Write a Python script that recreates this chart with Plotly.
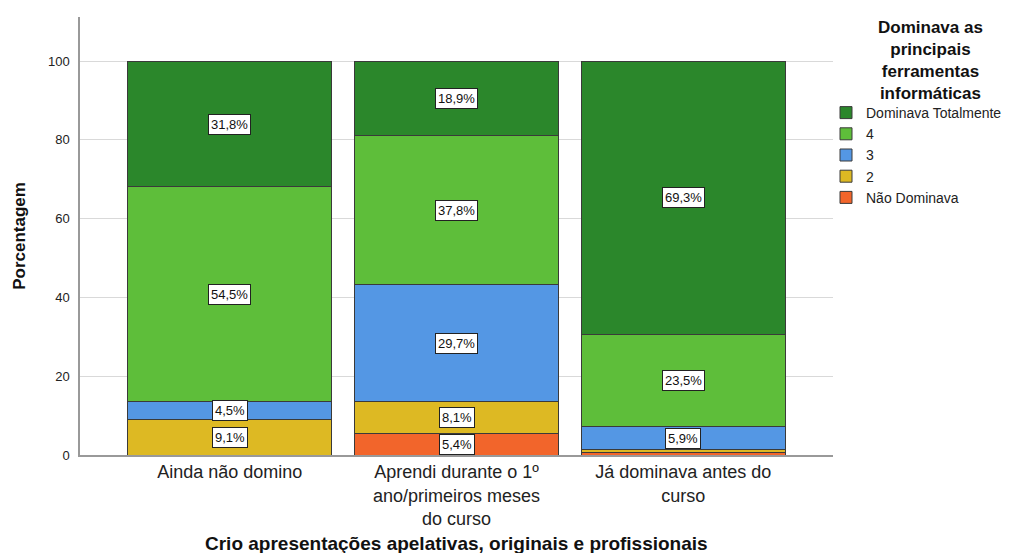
import plotly.graph_objects as go

categories = ["Ainda não domino",
              "Aprendi durante o 1º<br>ano/primeiros meses<br>do curso",
              "Já dominava antes do<br>curso"]
series_names = ["Não Dominava", "2", "3", "4", "Dominava Totalmente"]
nao_dominava = [0.0, 5.4, 0.7]
nivel2 = [9.1, 8.1, 0.6]
nivel3 = [4.5, 29.7, 5.9]
nivel4 = [54.5, 37.8, 23.5]
totalmente = [31.8, 18.9, 69.3]
y_ticks = [0, 20, 40, 60, 80, 100]
legend_title = "Dominava as<br>principais<br>ferramentas<br>informáticas"
x_title = "Crio apresentações apelativas, originais e profissionais"
y_title = "Porcentagem"

series_values = [nao_dominava, nivel2, nivel3, nivel4, totalmente]
colors = ["#F2652B", "#DDB923", "#5497E4", "#5EBE3A", "#2B872B"]

FONT = "Arial, Liberation Sans, sans-serif"
L, R, T, B = 80, 192, 17, 98
W, H = 1025, 553
plot_w = W - L - R
plot_h = H - T - B

fig = go.Figure()
for name, vals, col in zip(series_names, series_values, colors):
    fig.add_trace(go.Bar(
        x=categories, y=vals, name=name,
        marker=dict(color=col, line=dict(color="#3a3a3a", width=1)),
        width=0.9, hoverinfo="x+y+name",
    ))

# data labels
annotations = []
for ci, cat in enumerate(categories):
    base = 0.0
    for vals in series_values:
        v = vals[ci]
        if v >= 2:
            annotations.append(dict(
                x=cat, y=base + v / 2, xref="x", yref="y",
                text=f"{v:.1f}".replace(".", ",") + "%",
                showarrow=False, font=dict(family=FONT, size=13, color="#111"),
                bgcolor="white", bordercolor="#222", borderwidth=1, borderpad=2,
            ))
        base += v

# legend title
annotations.append(dict(
    x=(930 - L) / plot_w, y=(H - B - 60) / plot_h, xref="paper", yref="paper",
    xanchor="center", yanchor="middle", showarrow=False, align="center",
    text=f"<b>{legend_title}</b>", font=dict(family=FONT, size=17, color="#111"),
))

# x axis title
annotations.append(dict(
    x=0.5, y=(H - B - 543) / plot_h, xref="paper", yref="paper",
    xanchor="center", yanchor="middle", showarrow=False,
    text=f"<b>{x_title}</b>", font=dict(family=FONT, size=19, color="#111"),
))

fig.update_layout(
    width=W, height=H,
    margin=dict(l=L, r=R, t=T, b=B, autoexpand=False),
    barmode="stack",
    plot_bgcolor="white", paper_bgcolor="white",
    font=dict(family=FONT, color="#222"),
    annotations=annotations,
    legend=dict(
        x=(826 - L) / plot_w, y=(H - B - 97) / plot_h,
        xanchor="left", yanchor="top", traceorder="reversed",
        font=dict(family=FONT, size=14, color="#222"),
        bgcolor="rgba(0,0,0,0)", itemwidth=30,
    ),
    xaxis=dict(
        range=[-0.66, 2.66], showgrid=False, showline=True,
        linecolor="#999", linewidth=1.5, ticks="",
        tickfont=dict(family=FONT, size=18, color="#222"),
    ),
    yaxis=dict(
        range=[0, 111.2], tickvals=y_ticks, showgrid=True,
        gridcolor="#d9d9d9", gridwidth=1, showline=True,
        linecolor="#999", linewidth=1.5, ticks="", zeroline=False,
        tickfont=dict(family=FONT, size=13, color="#222"),
        ticklabelstandoff=6,
        title=dict(text=f"<b>{y_title}</b>", standoff=18,
                   font=dict(family=FONT, size=17, color="#111")),
    ),
)

fig.write_html("out.html", config={"displayModeBar": False},
               post_script="document.body.style.margin='0';")
